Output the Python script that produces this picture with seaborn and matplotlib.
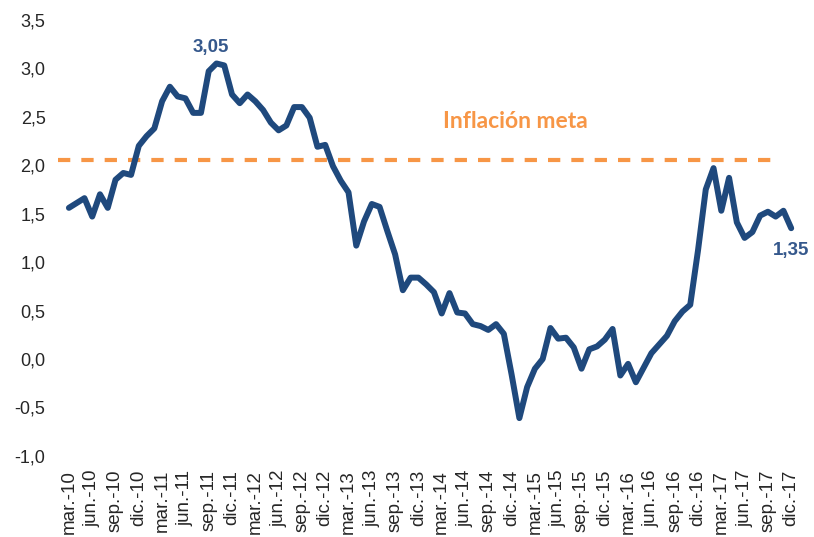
import numpy as np
import seaborn as sns
import matplotlib.pyplot as plt
import pandas as pd
from matplotlib.ticker import FuncFormatter

# Inflación interanual (%), mensual de mar-10 a dic-17
inflacion = [
    1.56, 1.61, 1.66, 1.47, 1.70, 1.56, 1.85, 1.92, 1.90, 2.20,          # mar-10 .. dic-10
    2.30, 2.38, 2.66, 2.81, 2.71, 2.69, 2.54, 2.54, 2.97, 3.05, 3.03, 2.73,  # 2011
    2.64, 2.73, 2.66, 2.57, 2.44, 2.36, 2.41, 2.60, 2.60, 2.49, 2.19, 2.21,  # 2012
    1.99, 1.84, 1.72, 1.17, 1.42, 1.60, 1.57, 1.32, 1.08, 0.71, 0.84, 0.84,  # 2013
    0.77, 0.69, 0.47, 0.68, 0.48, 0.47, 0.36, 0.34, 0.30, 0.36, 0.26, -0.16,  # 2014
    -0.61, -0.29, -0.10, 0.00, 0.32, 0.21, 0.22, 0.12, -0.10, 0.10, 0.13, 0.20,  # 2015
    0.31, -0.17, -0.05, -0.24, -0.09, 0.06, 0.15, 0.24, 0.39, 0.49, 0.56, 1.12,  # 2016
    1.75, 1.97, 1.53, 1.87, 1.41, 1.25, 1.31, 1.48, 1.52, 1.47, 1.53, 1.35,  # 2017
]
meta = 2.05

# etiquetas trimestrales del eje x
trimestres = ["mar.", "jun.", "sep.", "dic."]
anios = ["10", "11", "12", "13", "14", "15", "16", "17"]
etiquetas = [f"{m}-{a}" for a in anios for m in trimestres]

df = pd.DataFrame({"mes": np.arange(len(inflacion)), "inflacion": inflacion})

sns.set_style("white")
plt.rcParams["font.family"] = ["Liberation Sans", "DejaVu Sans"]

azul = "#1F497D"
azul_txt = "#35588C"
naranja = "#F79646"

fig = plt.figure(figsize=(8.14, 5.37), dpi=100)
ax = fig.add_axes([0.0713, 0.151, 0.915, 0.812])

ax.axhline(meta, xmin=0, xmax=0.957, color=naranja, lw=3, dashes=(2.95, 2.65))
sns.lineplot(x="mes", y="inflacion", data=df, color=azul, lw=4.3, ax=ax,
             solid_joinstyle="round", solid_capstyle="round")

ax.set_xlim(-1.4, 94.5)
ax.set_ylim(-1.0, 3.5)
ax.set_xticks(df["mes"][::3])
ax.set_xticklabels(etiquetas, rotation=90, fontsize=13.5)
ax.set_yticks(np.arange(-1.0, 3.51, 0.5))
ax.yaxis.set_major_formatter(FuncFormatter(lambda v, p: f"{v:.1f}".replace(".", ",")))
ax.tick_params(axis="y", labelsize=13, length=0, pad=9)
ax.tick_params(axis="x", length=0, pad=10)
ax.set_xlabel("")
ax.set_ylabel("")
sns.despine(left=True, bottom=True)

# anotaciones
i_max = int(np.argmax(inflacion))
ax.annotate(f"{inflacion[i_max]:.2f}".replace(".", ","), xy=(i_max, inflacion[i_max]),
            xytext=(-4, 8), textcoords="offset points", ha="center", va="baseline",
            fontsize=13.5, fontweight="bold", color=azul_txt)
ax.annotate(f"{inflacion[-1]:.2f}".replace(".", ","), xy=(len(inflacion) - 1, inflacion[-1]),
            xytext=(0, -19.5), textcoords="offset points", ha="center", va="baseline",
            fontsize=13.5, fontweight="bold", color=azul_txt)
ax.text(57.5, 2.38, "Inflación meta", ha="center", va="baseline", fontsize=16.5,
        fontweight="bold", color=naranja, family=["Lato", "DejaVu Sans"])

plt.savefig("out.png", dpi=100)
